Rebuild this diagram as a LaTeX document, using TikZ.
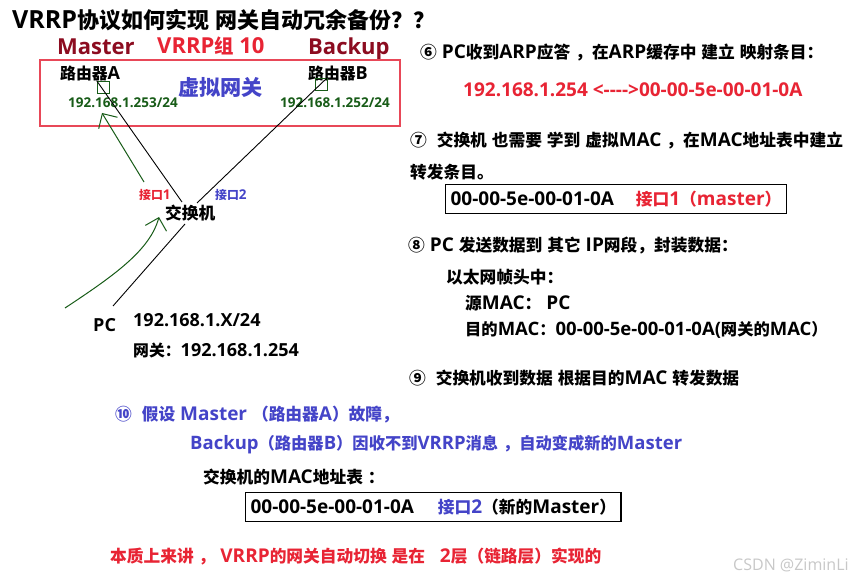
\documentclass[tikz,border=0pt]{standalone}
\usepackage{fontspec}
\setmainfont{Open Sans}
\newfontfamily\latfont{Open Sans}
\newfontfamily\cjkfont{Noto Sans CJK SC}[Scale=0.88]
\usetikzlibrary{arrows.meta}

% switch to the CJK font for Chinese characters
\newXeTeXintercharclass\cjkclass
\newcommand\setcjkrange[2]{\count255=#1\relax
  \loop\XeTeXcharclass\count255=\cjkclass\relax
  \ifnum\count255<#2\relax\advance\count255 by 1\relax\repeat}
\setcjkrange{"2460}{"24FF}
\setcjkrange{"3000}{"303F}
\setcjkrange{"4E00}{"9FFF}
\setcjkrange{"FF00}{"FFEF}
\XeTeXinterchartokenstate=1
\XeTeXinterchartoks 0 \cjkclass = {\cjkfont}
\XeTeXinterchartoks 4095 \cjkclass = {\cjkfont}
\XeTeXinterchartoks \cjkclass 0 = {\latfont}
\XeTeXinterchartoks \cjkclass 4095 = {\latfont}

\definecolor{darkred}{RGB}{140,12,32}
\definecolor{vrred}{RGB}{232,36,52}
\definecolor{boxred}{RGB}{232,72,88}
\definecolor{vblue}{RGB}{68,68,200}
\definecolor{ipgreen}{RGB}{24,92,24}
\definecolor{wmgray}{RGB}{200,200,200}

\begin{document}
\begin{tikzpicture}[
  x=1pt, y=-1pt,
  txt/.style={anchor=west, inner sep=0pt, font=\bfseries\fontsize{19}{22}\selectfont},
  ttl/.style={txt, font=\bfseries\fontsize{22}{26}\selectfont},
  small/.style={txt, font=\bfseries\fontsize{13.5}{16}\selectfont},
  port/.style={rectangle, draw=ipgreen, line width=0.8pt, minimum size=12pt, inner sep=0pt},
  link/.style={draw=black, line width=0.9pt},
  flow/.style={draw=ipgreen, line width=1pt, -{Straight Barb[length=11pt,width=22pt]}},
  macbox/.style={txt, draw=black, line width=1.2pt, inner xsep=5pt, minimum height=29pt}
]
\fill[white] (0,0) rectangle (851,580);
\useasboundingbox (0,0) rectangle (851,580);

% Title
\node[txt, font=\bfseries\fontsize{25}{29}\selectfont] (title) at (12,20) {VRRP协议如何实现 网关自动冗余备份？？};

% VRRP group
\node[ttl, darkred] (master) at (57,47) {Master};
\node[ttl, vrred]   (group)  at (157,46) {VRRP组 10};
\node[ttl, darkred] (backup) at (308,49) {Backup};
\node[draw=boxred, line width=1.5pt, minimum width=360pt, minimum height=66pt] (vgw) at (220,93) {};
\node[txt, vblue, font=\bfseries\fontsize{24}{28}\selectfont] (vgwlbl) at (178,87) {虚拟网关};

% Routers
\node[txt, font=\bfseries\fontsize{18}{22}\selectfont] (rA) at (60,73)  {路由器A};
\node[txt, font=\bfseries\fontsize{18}{22}\selectfont] (rB) at (308,73) {路由器B};
\node[port] (pA) at (103,87) {};
\node[port] (pB) at (321,84) {};
\node[small, ipgreen] (ipA) at (68,103)  {192.168.1.253/24};
\node[small, ipgreen] (ipB) at (280,103) {192.168.1.252/24};

% Switch and PC
\node[txt] (sw) at (165,213) {交换机};
\node[small, vrred] (if1) at (139,195) {接口1};
\node[small, vblue] (if2) at (215,195) {接口2};
\node[txt, font=\bfseries\fontsize{18}{22}\selectfont] (pc)   at (93,325)  {PC};
\node[txt, font=\bfseries\fontsize{18}{22}\selectfont] (pcip) at (133,320) {192.168.1.X/24};
\node[txt, font=\bfseries\fontsize{18}{22}\selectfont] (pcgw) at (133,350) {网关：192.168.1.254};

\coordinate (swA) at (182,202);
\coordinate (swB) at (197,203);
\coordinate (swC) at (185,224);
\coordinate (pcB) at (113,306);
\coordinate (pcG) at (65,308);
\coordinate (swG) at (159,217);
\coordinate (if1G) at (144,182);
\coordinate (ipAG) at (102,113);

% Links
\draw[link] (pA.north west) -- (swA);
\draw[link] (pB.north east) -- (swB);
\draw[link] (swC) -- (pcB);

% Data flow
\draw[flow] (pcG) .. controls (115,275) and (150,250) .. (swG);
\draw[flow] (if1G) -- (ipAG);

% Steps 6 - 9
\node[txt] (s6) at (420,53) {⑥ PC收到ARP应答 ，在ARP缓存中 建立 映射条目：};
\node[txt, vrred] (arp) at (463,90) {192.168.1.254 <-\kern0pt-\kern0pt-\kern0pt->00-00-5e-00-01-0A};
\node[txt] (s7)  at (410,141) {⑦\ \ 交换机 也需要 学到 虚拟MAC ，在MAC地址表中建立};
\node[txt] (s7b) at (410,172) {转发条目。};
\node[macbox] (tab1) at (445,199) {00-00-5e-00-01-0A\hspace{22pt}\textcolor{vrred}{接口1（master）}};
\node[txt] (s8)  at (408,246) {⑧ PC 发送数据到 其它 IP网段，封装数据：};
\node[txt] (eth) at (446,277) {以太网帧头中：};
\node[txt] (src) at (465,303) {源MAC： PC};
\node[txt, font=\bfseries\fontsize{18.5}{22}\selectfont] (dst) at (465,330) {目的MAC：00-00-5e-00-01-0A(网关的MAC）};
\node[txt] (s9)  at (409,378) {⑨\ \ 交换机收到数据 根据目的MAC 转发数据};

% Step 10
\node[txt, vblue] (s10)  at (115,415) {⑩\ \ 假设 Master （路由器A）故障，};
\node[txt, vblue, font=\bfseries\fontsize{18.5}{22}\selectfont] (s10b) at (190,445) {Backup（路由器B）因收不到VRRP消息 ，自动变成新的Master};
\node[txt] (mact) at (203,477) {交换机的MAC地址表 ：};
\node[macbox] (tab2) at (245,507) {00-00-5e-00-01-0A\hspace{24pt}\textcolor{vblue}{接口2}（新的Master）};
\node[txt, vrred] (ess) at (110,557) {本质上来讲 ， VRRP的网关自动切换 是在\ \ \ 2层（链路层）实现的};

\node[anchor=west, inner sep=0pt, wmgray, font=\fontsize{16}{18}\selectfont] (wm) at (733,565) {CSDN @ZiminLi};
\end{tikzpicture}
\end{document}
